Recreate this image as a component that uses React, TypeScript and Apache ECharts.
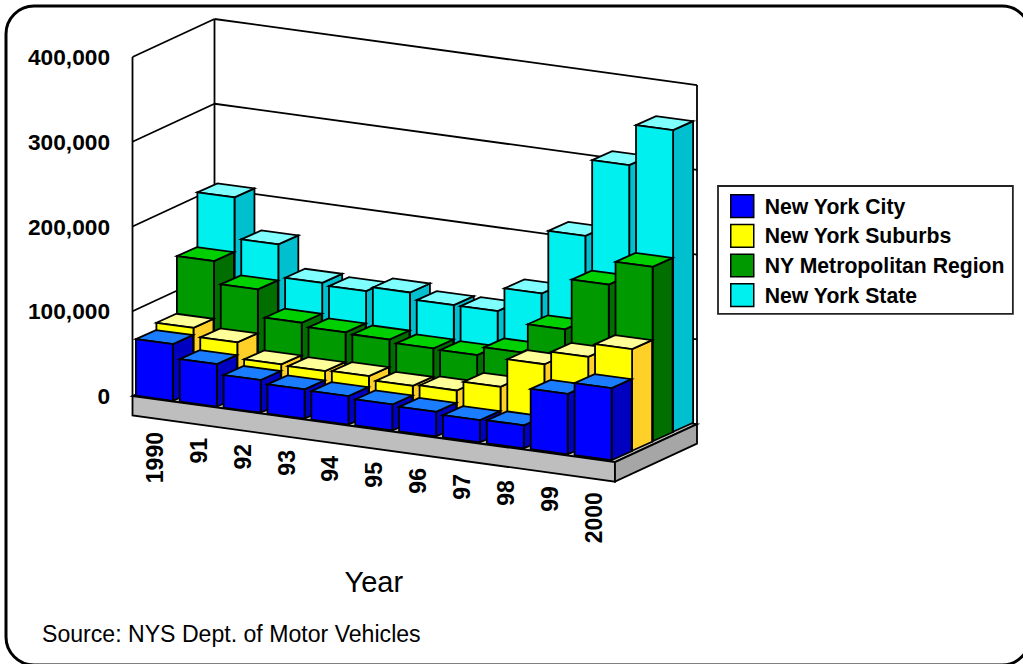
import React, { useEffect, useRef } from "react";
import * as echarts from "echarts";

const years = ["1990", "91", "92", "93", "94", "95", "96", "97", "98", "99", "2000"];
const yTicks = [0, 100000, 200000, 300000, 400000];
const newYorkCity = [66900, 50300, 38500, 34500, 33500, 30700, 29000, 26200, 27100, 71200, 85000];
const newYorkSuburbs = [74900, 64700, 45800, 44800, 45900, 41500, 43000, 54300, 88000, 103700, 119800];
const nyMetro = [142400, 116000, 83700, 79300, 77900, 74400, 73500, 83700, 118000, 177800, 205700];
const newYorkState = [206400, 157900, 119600, 116800, 122200, 114300, 114200, 142100, 217000, 307500, 355800];

const FONT = '"Liberation Sans", Arial, sans-serif';
const SLOPE = 0.137;
const BAR_SLOPE = 0.1355;
const WALL_DX = 82;
const WALL_DY = -38;
const SLOT_DX = 20.5;
const SLOT_DY = -9.5;
const LINE = 1.8;

function poly(points: number[][], fill: string, z2 = 0) {
  return {
    type: "polygon",
    z2,
    shape: { points },
    style: { fill, stroke: "#000", lineWidth: LINE, lineJoin: "miter" },
  };
}

function line(a: number[], b: number[]) {
  return {
    type: "line",
    shape: { x1: a[0], y1: a[1], x2: b[0], y2: b[1] },
    style: { stroke: "#000", lineWidth: LINE, fill: "none" },
  };
}

function barSeries(
  name: string,
  values: number[],
  slot: number,
  front: string,
  top: string,
  side: string,
) {
  return {
    type: "custom",
    name,
    coordinateSystem: "cartesian2d",
    itemStyle: { color: front },
    data: values.map((v, i) => [i, v]),
    renderItem: (params: any, api: any) => {
      const i = api.value(0);
      const v = api.value(1);
      const head = api.coord([i, v]);
      const foot = api.coord([i, 0]);
      const band = api.size([1, 0])[0];
      const w = band * 0.845;
      const x0 = params.coordSys.x;
      const dx = SLOT_DX * slot;
      const dy = SLOT_DY * slot - 0.7;
      const lx = head[0] - w / 2 + dx;
      const rx = lx + w;
      const h = foot[1] - head[1];
      const by = (x: number) => foot[1] + BAR_SLOPE * (x - dx - x0) + dy;
      const dl = by(lx);
      const dr = by(rx);
      const ox = 20;
      const oy = -9;
      return {
        type: "group",
        children: [
          poly([[rx, dr - h], [rx + ox, dr - h + oy], [rx + ox, dr + oy], [rx, dr]], side),
          poly([[lx, dl - h], [lx + ox, dl - h + oy], [rx + ox, dr - h + oy], [rx, dr - h]], top),
          poly([[lx, dl - h], [rx, dr - h], [rx, dr], [lx, dl]], front),
        ],
      };
    },
  };
}

const wallSeries = {
  type: "custom",
  name: "walls",
  coordinateSystem: "cartesian2d",
  silent: true,
  data: [[0, 0]],
  renderItem: (params: any, api: any) => {
    const cs = params.coordSys;
    const x0 = cs.x;
    const x1 = cs.x + cs.width;
    const y = (t: number) => api.coord([0, t])[1];
    const fall = (x1 - x0) * SLOPE;
    const base = y(0);
    const top = y(400000);
    const thick = 19.5;
    const children: any[] = [];
    yTicks.forEach((t) => {
      const p = y(t);
      if (t > 0) {
        children.push(line([x0, p], [x0 + WALL_DX, p + WALL_DY]));
        children.push(line([x0 + WALL_DX, p + WALL_DY], [x1 + WALL_DX, p + WALL_DY + fall]));
      }
    });
    children.push(line([x0, top], [x0, base]));
    children.push(line([x0 + WALL_DX, top + WALL_DY], [x0 + WALL_DX, base + WALL_DY]));
    children.push(line([x1 + WALL_DX, top + WALL_DY + fall], [x1 + WALL_DX, base + WALL_DY + fall]));
    children.push(poly([[x0, base], [x0 + WALL_DX, base + WALL_DY], [x1 + WALL_DX, base + WALL_DY + fall], [x1, base + fall]], "#bebebe"));
    children.push(poly([[x0, base], [x1, base + fall], [x1, base + fall + thick], [x0, base + thick]], "#bebebe"));
    children.push(poly([[x1, base + fall], [x1 + WALL_DX, base + WALL_DY + fall], [x1 + WALL_DX, base + WALL_DY + fall + thick], [x1, base + fall + thick]], "#a6a6a6"));
    return { type: "group", children };
  },
};

const yearLabelSeries = {
  type: "custom",
  name: "yearLabels",
  coordinateSystem: "cartesian2d",
  silent: true,
  data: years.map((_, i) => [i, 0]),
  renderItem: (params: any, api: any) => {
    const p = api.coord([api.value(0), 0]);
    const x0 = params.coordSys.x;
    const label = years[api.value(0)];
    return {
      type: "text",
      x: p[0] + 0.5,
      y: p[1] + SLOPE * (p[0] - x0) + 33,
      rotation: Math.PI / 2,
      style: {
        text: label,
        align: "right",
        verticalAlign: "middle",
        fill: "#000",
        font: `bold 23px ${FONT}`,
      },
    };
  },
};

const legendNames = ["New York City", "New York Suburbs", "NY Metropolitan Region", "New York State"];
const legendColors = ["#0000ff", "#ffff00", "#009900", "#00f0f0"];

export default function App() {
  const ref = useRef<HTMLDivElement>(null);
  useEffect(() => {
    const chart = echarts.init(ref.current!, null, { renderer: "svg" });
    chart.setOption({
      animation: false,
      backgroundColor: "#fff",
      grid: { left: 132.5, top: 57, width: 482.5, height: 339 },
      xAxis: {
        type: "category",
        data: years,
        name: "Year",
        nameLocation: "middle",
        nameGap: 171,
        nameTextStyle: { fontFamily: FONT, fontSize: 29, color: "#000", verticalAlign: "top" },
        axisLine: { show: false },
        axisTick: { show: false },
        axisLabel: { show: false },
        splitLine: { show: false },
      },
      yAxis: {
        type: "value",
        min: 0,
        max: 400000,
        interval: 100000,
        axisLine: { show: false },
        axisTick: { show: false },
        splitLine: { show: false },
        axisLabel: {
          margin: 22.5,
          fontFamily: FONT,
          fontWeight: "bold",
          fontSize: 22.7,
          color: "#000",
          formatter: (v: number) => v.toLocaleString("en-US"),
        },
      },
      legend: {
        left: 718,
        top: 186,
        orient: "vertical",
        selectedMode: false,
        backgroundColor: "#fff",
        borderColor: "#222",
        borderWidth: 1.8,
        padding: [8, 8, 6.5, 12],
        itemWidth: 23,
        itemHeight: 22.7,
        itemGap: 5.5,
        textStyle: { fontFamily: FONT, fontWeight: "bold", fontSize: 21.2, lineHeight: 22, color: "#000", padding: [0, 0, 0, 6] },
        data: legendNames.map((name, i) => ({
          name,
          icon: "rect",
          itemStyle: { color: legendColors[i], borderColor: "#000", borderWidth: 1.5 },
        })),
      },
      graphic: [
        {
          type: "rect",
          silent: true,
          z: -10,
          shape: { x: 6, y: 6, width: 1024, height: 659, r: 28 },
          style: { fill: "none", stroke: "#000", lineWidth: 3 },
        },
        {
          type: "text",
          x: 42,
          y: 634,
          style: {
            text: "Source: NYS Dept. of Motor Vehicles",
            fill: "#000",
            font: `23.1px ${FONT}`,
            verticalAlign: "middle",
          },
        },
      ],
      series: [
        wallSeries,
        barSeries("New York State", newYorkState, 3, "#00f0f0", "#80ffff", "#00c0d0"),
        barSeries("NY Metropolitan Region", nyMetro, 2, "#009900", "#00d000", "#006f00"),
        barSeries("New York Suburbs", newYorkSuburbs, 1, "#ffff00", "#ffff99", "#ffd027"),
        barSeries("New York City", newYorkCity, 0, "#0000ff", "#1a7cff", "#0000c0"),
        yearLabelSeries,
      ],
    });
    return () => chart.dispose();
  }, []);
  return <div ref={ref} style={{ position: "fixed", left: 0, top: 0, width: 1023, height: 664 }} />;
}
